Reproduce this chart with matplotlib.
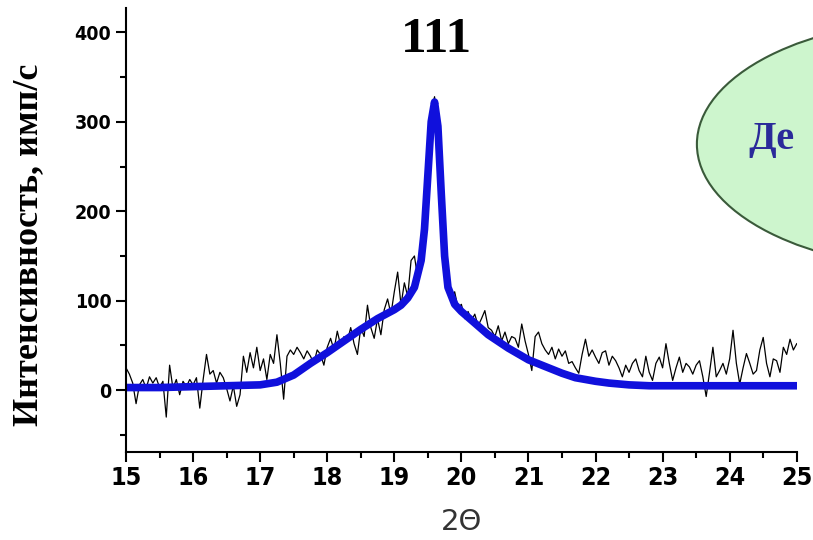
import numpy as np
import matplotlib
matplotlib.use("Agg")
import matplotlib.pyplot as plt
from matplotlib.patches import Ellipse
from matplotlib import font_manager

# measured counts, step 0.05 deg from 15 to 25
intensity = [25, 18, 8, -15, 6, 12, 2, 15, 8, 14, 3, 10, -30, 28, 2, 12, -5, 10, 4, 12,
             6, 14, -20, 12, 40, 18, 22, 8, 20, 14, 2, -12, 5, -18, -5, 38, 20, 42, 25, 48,
             22, 35, 12, 40, 30, 62, 30, -10, 38, 45, 40, 48, 42, 35, 44, 38, 30, 45, 40, 28,
             48, 58, 45, 66, 50, 60, 55, 70, 52, 40, 70, 60, 95, 70, 58, 80, 62, 90, 102, 85,
             110, 132, 95, 120, 105, 145, 150, 125, 160, 200, 260, 310, 328, 290, 230, 160, 120, 100, 110, 92,
             96, 80, 88, 78, 85, 72, 80, 89, 70, 67, 60, 72, 55, 65, 52, 60, 58, 48, 74, 55,
             40, 22, 60, 65, 52, 45, 40, 48, 35, 46, 38, 44, 30, 32, 25, 19, 40, 57, 38, 45,
             37, 30, 42, 44, 28, 38, 33, 25, 15, 28, 20, 30, 35, 22, 15, 38, 20, 11, 30, 37,
             25, 52, 30, 11, 25, 37, 20, 30, 26, 18, 28, 33, 15, -7, 20, 48, 15, 22, 30, 18,
             35, 67, 30, 7, 25, 41, 30, 18, 22, 45, 59, 30, 15, 35, 33, 20, 48, 40, 57, 45,
             52]
two_theta = np.linspace(15, 25, len(intensity))

# fitted profile
fit_x = [15.0, 15.5, 16.0, 16.5, 17.0, 17.25, 17.5, 17.75, 18.0, 18.25, 18.5, 18.75, 19.0, 19.1,
         19.2, 19.3, 19.4, 19.45, 19.5, 19.55, 19.6, 19.65, 19.7, 19.75, 19.8, 19.9, 20.0, 20.2,
         20.4, 20.7, 21.0, 21.2, 21.5, 21.7, 22.0, 22.2, 22.5, 22.8, 23.5, 25.0]
fit_y = [3, 3, 4, 5, 6, 9, 17, 30, 42, 55, 68, 80, 90, 95,
         103, 115, 145, 180, 240, 300, 322, 295, 220, 150, 115, 96, 88, 75,
         62, 47, 34, 28, 19, 14, 10, 8, 6, 5, 5, 5]

names = set(f.name for f in font_manager.fontManager.ttflist)
tick_font = 'DejaVu Sans Condensed' if 'DejaVu Sans Condensed' in names else 'DejaVu Sans'

fig = plt.figure(figsize=(8.13, 5.4), dpi=100)
ax = fig.add_axes([0.155, 0.163, 0.825, 0.822])

ax.plot(two_theta, intensity, color='black', lw=0.9)
ax.plot(fit_x, fit_y, color='#1010dc', lw=5.5, solid_joinstyle='round')

ax.set_xlim(15, 25)
ax.set_ylim(-69, 427)
ax.spines['top'].set_visible(False)
ax.spines['right'].set_visible(False)
ax.spines['left'].set_linewidth(1.5)
ax.spines['bottom'].set_linewidth(1.5)

ax.set_xticks(np.arange(15, 26, 1))
ax.set_xticks(np.arange(15, 25.5, 0.5), minor=True)
ax.set_yticks([0, 100, 200, 300, 400])
ax.set_yticks(np.arange(-50, 426, 50), minor=True)
ax.tick_params(which='major', length=7, width=1.5, direction='out')
ax.tick_params(which='minor', length=4, width=1.5, direction='out')
ax.tick_params(axis='x', pad=3)
for lab in ax.get_xticklabels():
    lab.set_family(tick_font); lab.set_fontweight('bold'); lab.set_fontsize(18)
    lab.set_fontstretch('condensed')
for lab in ax.get_yticklabels():
    lab.set_family(tick_font); lab.set_fontweight('bold'); lab.set_fontsize(14)
    lab.set_fontstretch('condensed')

fig.text(0.035, 0.546, 'Интенсивность, имп/с', rotation=90, ha='center', va='center',
         family='Liberation Serif', fontweight='bold', fontsize=26)
fig.text(0.568, 0.033, '2Θ', ha='center', va='center', fontsize=21, color='#333333')
fig.text(0.537, 0.926, '111', ha='center', va='center', family='Liberation Serif',
         fontweight='bold', fontsize=37)

ell = Ellipse((1.161, 0.733), 494 / 813, 250 / 540, transform=fig.transFigure,
              facecolor='#cdf5cd', edgecolor='#3a5a3a', lw=1.5)
fig.add_artist(ell)
fig.text(0.921, 0.742, 'Де', ha='left', va='center', family='Liberation Serif',
         fontweight='bold', fontsize=29, color='#2a2a9a')

fig.savefig('out.png', dpi=100, facecolor='white')
